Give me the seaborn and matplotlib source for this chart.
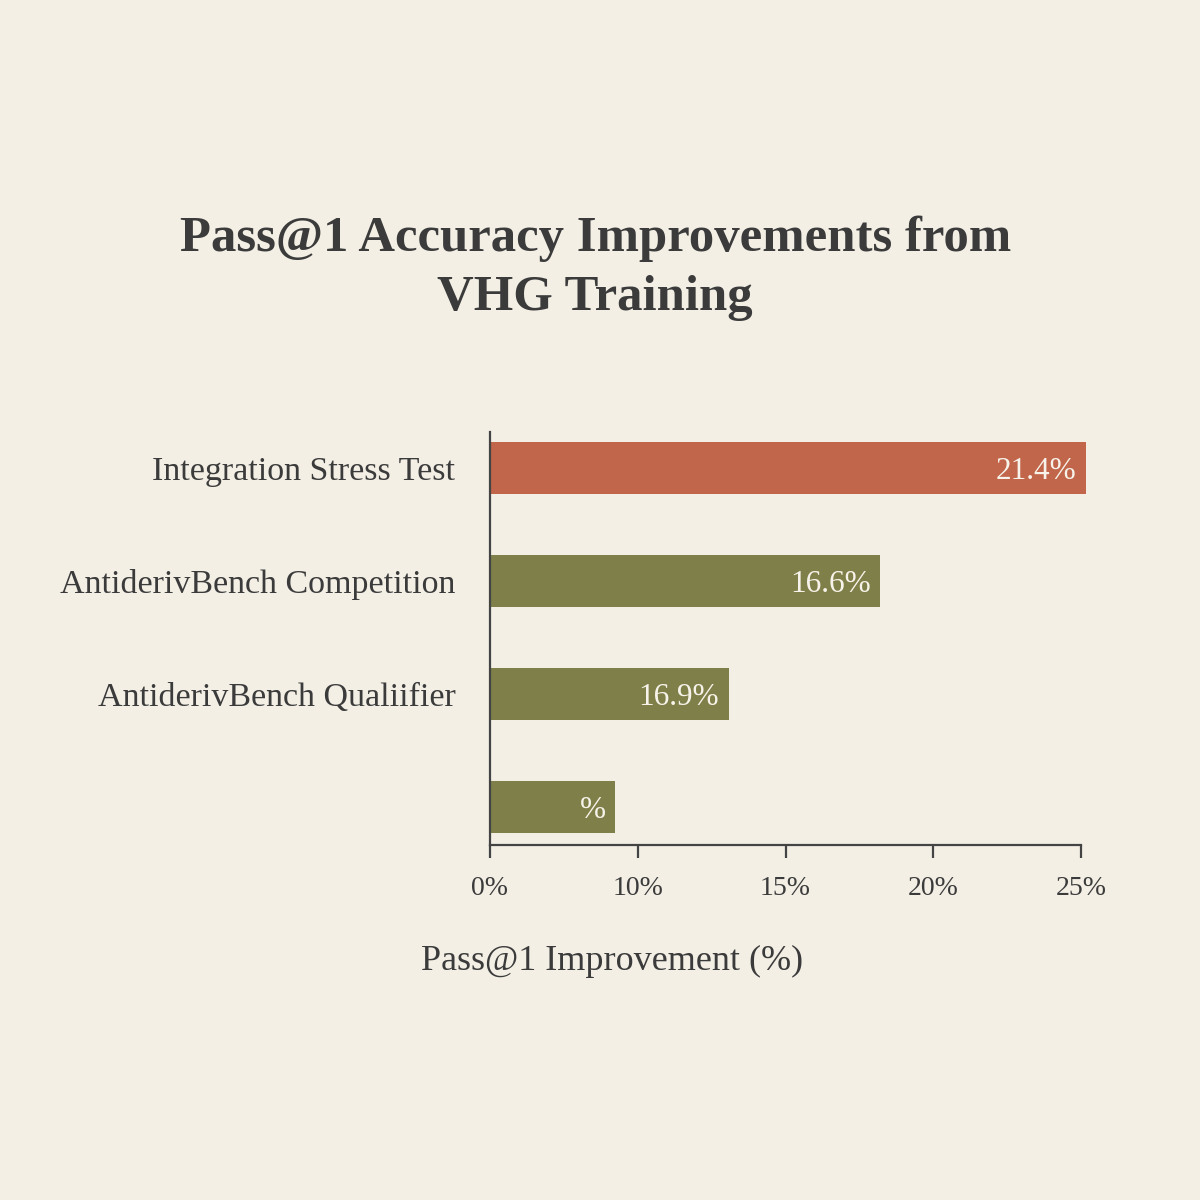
import pandas as pd
import matplotlib.pyplot as plt
import seaborn as sns

# values
categories = ["Integration Stress Test", "AntiderivBench Competition",
              "AntiderivBench Qualiifier", ""]
bar_lengths = [25.2, 16.5, 10.1, 5.3]          # bar ends, in axis % units
bar_labels = ["21.4%", "16.6%", "16.9%", "%"]
bar_colors = ["#C1664A", "#7F8049", "#7F8049", "#7F8049"]
tick_pos = [0, 6.25, 12.5, 18.75, 25]
tick_labels = ["0%", "10%", "15%", "20%", "25%"]

bg = "#F3EFE5"
ink = "#3B3B3B"

sns.set_style("white")
plt.rcParams["font.family"] = ["Liberation Serif", "DejaVu Serif"]

df = pd.DataFrame({"cat": categories, "val": bar_lengths})

fig = plt.figure(figsize=(12, 12), dpi=100, facecolor=bg)
ax = fig.add_axes([490 / 1200, 1 - 845 / 1200, 591 / 1200, 413 / 1200])
ax.set_facecolor(bg)

sns.barplot(data=df, y="cat", x="val", hue="cat", palette=bar_colors,
            orient="h", width=0.46, legend=False, ax=ax, saturation=1,
            linewidth=0)
for p in ax.patches:
    p.set_clip_on(False)

for i, (v, lab) in enumerate(zip(bar_lengths, bar_labels)):
    ax.text(v - 0.4, i + 0.03, lab, ha="right", va="center", color="#F7F3EA",
            fontsize=22.5)

ax.set_xlim(0, 25)
ax.set_ylim(3.34, -0.32)
ax.set_xticks(tick_pos)
ax.set_xticklabels(tick_labels, fontsize=20, color=ink)
ax.tick_params(axis="x", bottom=True, length=9, width=1.6, color="#444444",
               pad=13)
ax.tick_params(axis="y", left=False, length=0, pad=25, labelsize=24.5,
               labelcolor=ink)
ax.set_xlabel("")
ax.set_ylabel("")
for s in ["top", "right"]:
    ax.spines[s].set_visible(False)
for s in ["left", "bottom"]:
    ax.spines[s].set_color("#444444")
    ax.spines[s].set_linewidth(1.6)

fig.text(0.496, 1 - 268 / 1200, "Pass@1 Accuracy Improvements from\nVHG Training",
         ha="center", va="center", fontsize=36.5, fontweight="bold", color=ink,
         linespacing=1.38)
fig.text(0.51, 1 - 961 / 1200, "Pass@1 Improvement (%)", ha="center",
         va="center", fontsize=26, color=ink)

fig.savefig("out.png", dpi=100, facecolor=bg)
